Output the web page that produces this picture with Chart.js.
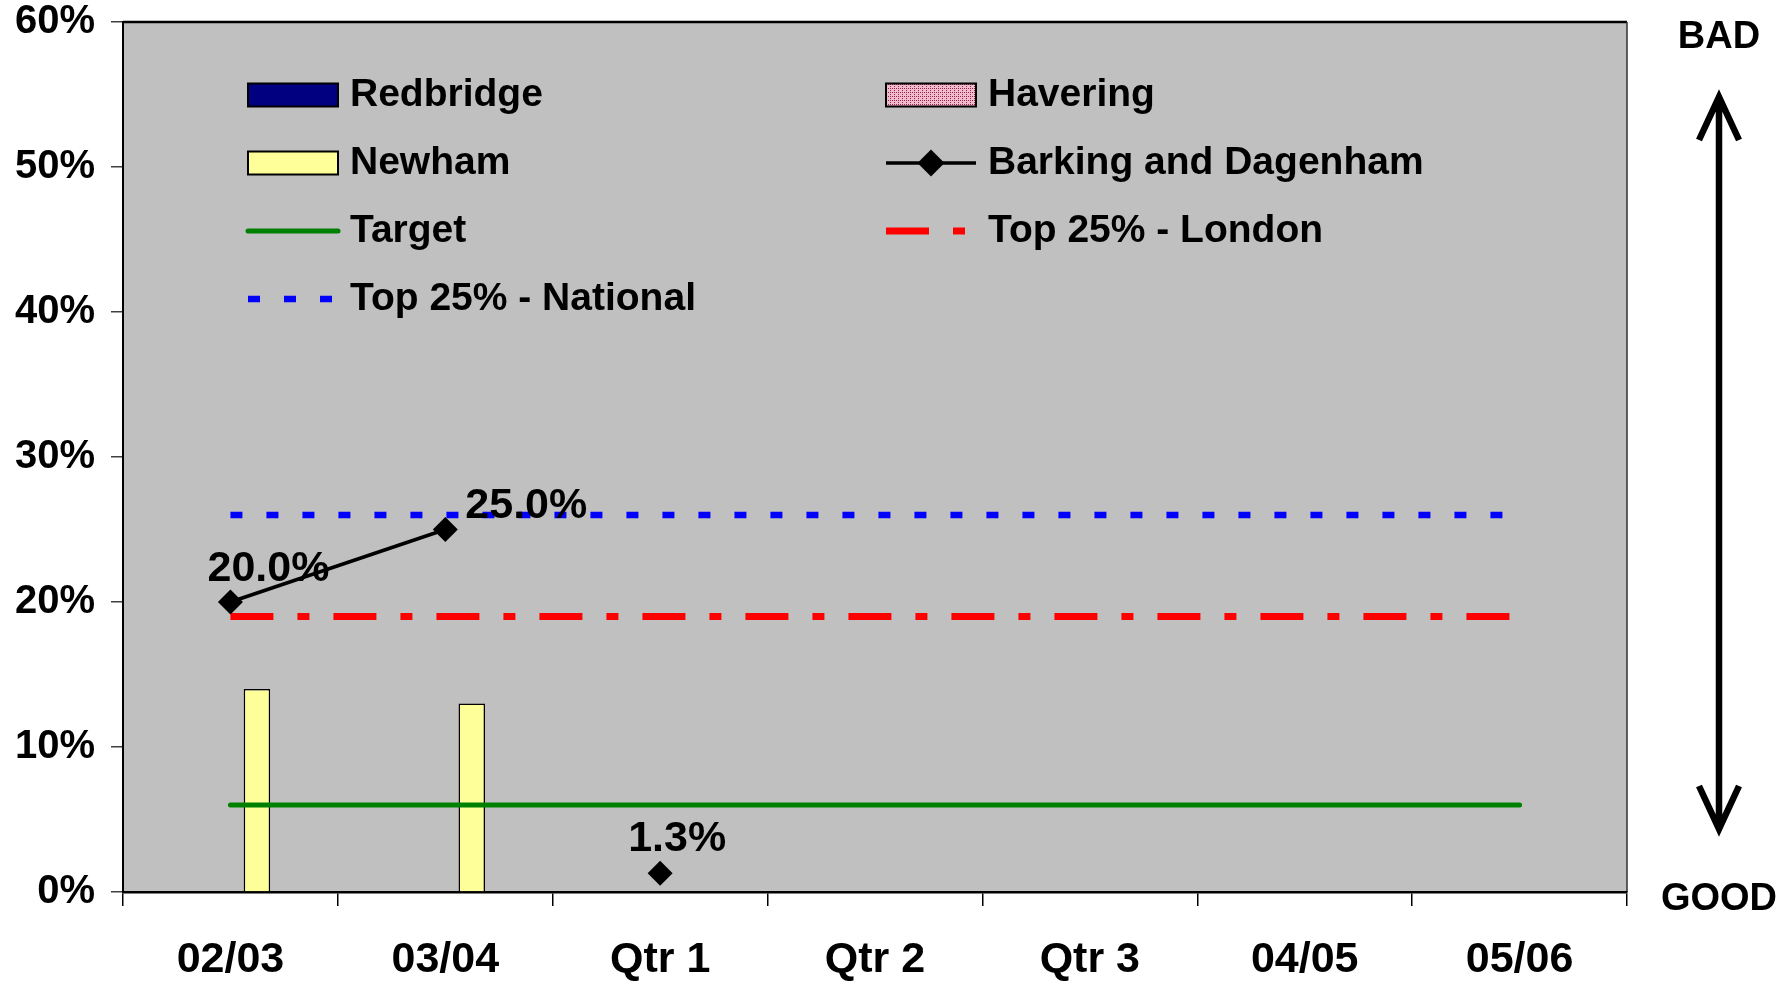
<!DOCTYPE html>
<html>
<head>
<meta charset="utf-8">
<script src="https://cdn.jsdelivr.net/npm/chart.js@4.4.0/dist/chart.umd.min.js"></script>
<style>
  html, body { margin: 0; padding: 0; background: #fff; }
  #wrap { width: 1787px; height: 984px; }
</style>
</head>
<body>
<div id="wrap"><canvas id="myChart" width="1787" height="984"></canvas></div>
<script>
// chart values, in percent
const categories = ['02/03', '03/04', 'Qtr 1', 'Qtr 2', 'Qtr 3', '04/05', '05/06'];
const redbridge = [null, null, null, null, null, null, null];
const havering = [null, null, null, null, null, null, null];
const newham = [14, 13, null, null, null, null, null];
const barking = [20, 25, 1.3, null, null, null, null];
const target = [6, 6, 6, 6, 6, 6, 6];
const topLondon = [19, 19, 19, 19, 19, 19, 19];
const topNational = [26, 26, 26, 26, 26, 26, 26];
const yTicks = [0, 10, 20, 30, 40, 50, 60];

const FONT = '"Liberation Sans", Arial, sans-serif';
Chart.defaults.font.family = FONT;
Chart.defaults.font.weight = 'bold';
Chart.defaults.color = '#000';

// pink hatch for Havering
function hatchPattern() {
    const c = document.createElement('canvas');
    c.width = 4; c.height = 4;
    const g = c.getContext('2d');
    g.fillStyle = '#efbccb';
    g.fillRect(0, 0, 4, 4);
    g.fillStyle = '#a02050';
    g.fillRect(0, 0, 1, 1);
    g.fillRect(2, 2, 1, 1);
    g.fillRect(2, 0, 1, 1);
    return g.createPattern(c, 'repeat');
}

// plot area background and frame
const plotArea = {
    id: 'plotArea',
    beforeDraw(chart) {
        const { ctx, chartArea: a } = chart;
        ctx.save();
        ctx.fillStyle = '#c0c0c0';
        ctx.fillRect(a.left, a.top, a.right - a.left, a.bottom - a.top);
        ctx.strokeStyle = '#000';
        ctx.lineWidth = 2.5;
        ctx.beginPath();
        ctx.moveTo(a.left, a.top);
        ctx.lineTo(a.right, a.top);
        ctx.stroke();
        ctx.strokeStyle = '#303030';
        ctx.lineWidth = 1.5;
        ctx.beginPath();
        ctx.moveTo(a.right, a.top);
        ctx.lineTo(a.right, a.bottom);
        ctx.stroke();
        ctx.restore();
    }
};

// value labels for Barking and Dagenham (offset from point)
const labelOffsets = [[38, -33], [81, -23], [17, -34]];
const pointLabels = {
    id: 'pointLabels',
    afterDatasetsDraw(chart) {
        const ctx = chart.ctx;
        const meta = chart.getDatasetMeta(3);
        ctx.save();
        ctx.font = 'bold 43px ' + FONT;
        ctx.fillStyle = '#000';
        ctx.textAlign = 'center';
        ctx.textBaseline = 'middle';
        meta.data.forEach((pt, i) => {
            const v = barking[i];
            if (v === null || !labelOffsets[i]) return;
            ctx.fillText(v.toFixed(1) + '%', pt.x + labelOffsets[i][0], pt.y + labelOffsets[i][1]);
        });
        ctx.restore();
    }
};

// two column legend inside the plot
const gridLegend = {
    id: 'gridLegend',
    afterDraw(chart) {
        const { ctx, chartArea: a } = chart;
        const colX = [a.left + 125, a.left + 763];
        ctx.save();
        ctx.font = 'bold 39px ' + FONT;
        ctx.textBaseline = 'middle';
        chart.data.datasets.forEach((ds, i) => {
            const x = colX[i % 2];
            const y = a.top + 73 + Math.floor(i / 2) * 68;
            const w = 90;
            if (ds.type === 'bar') {
                ctx.fillStyle = ds.backgroundColor;
                ctx.fillRect(x, y - 11.5, w, 23);
                ctx.strokeStyle = '#000';
                ctx.lineWidth = 2;
                ctx.strokeRect(x, y - 11.5, w, 23);
            } else {
                ctx.strokeStyle = ds.borderColor;
                ctx.lineWidth = ds.borderWidth;
                ctx.lineCap = ds.borderCapStyle || 'butt';
                ctx.setLineDash(ds.borderDash || []);
                ctx.beginPath();
                ctx.moveTo(x, y);
                ctx.lineTo(x + w, y);
                ctx.stroke();
                ctx.setLineDash([]);
                if (ds.pointRadius > 0) {
                    const r = ds.pointRadius + 1;
                    ctx.fillStyle = ds.pointBackgroundColor;
                    ctx.beginPath();
                    ctx.moveTo(x + w / 2, y - r);
                    ctx.lineTo(x + w / 2 + r, y);
                    ctx.lineTo(x + w / 2, y + r);
                    ctx.lineTo(x + w / 2 - r, y);
                    ctx.closePath();
                    ctx.fill();
                }
            }
            ctx.fillStyle = '#000';
            ctx.fillText(ds.label, x + 102, y);
        });
        ctx.restore();
    }
};

// BAD / GOOD arrow on the right
const badGood = {
    id: 'badGood',
    afterDraw(chart) {
        const { ctx, chartArea: a } = chart;
        const x = a.right + 92;
        const top = 97, bottom = 829;
        ctx.save();
        ctx.fillStyle = '#000';
        ctx.textAlign = 'center';
        ctx.textBaseline = 'middle';
        ctx.font = 'bold 38px ' + FONT;
        ctx.fillText('BAD', x, 38);
        ctx.fillText('GOOD', x, 900);
        ctx.strokeStyle = '#000';
        ctx.lineWidth = 6.5;
        ctx.beginPath();
        ctx.moveTo(x, top);
        ctx.lineTo(x, bottom);
        ctx.moveTo(x - 20, top + 43);
        ctx.lineTo(x, top);
        ctx.lineTo(x + 20, top + 43);
        ctx.moveTo(x - 20, bottom - 43);
        ctx.lineTo(x, bottom);
        ctx.lineTo(x + 20, bottom - 43);
        ctx.stroke();
        ctx.restore();
    }
};

const ctx = document.getElementById('myChart').getContext('2d');
const myChart = new Chart(ctx, {
    type: 'bar',
    data: {
        labels: categories,
        datasets: [
            { type: 'bar', label: 'Redbridge', data: redbridge, backgroundColor: '#000080',
              borderColor: '#000', borderWidth: 1.5, order: 5 },
            { type: 'bar', label: 'Havering', data: havering, backgroundColor: hatchPattern(),
              borderColor: '#000', borderWidth: 1.5, order: 5 },
            { type: 'bar', label: 'Newham', data: newham, backgroundColor: '#ffff99',
              borderColor: '#000', borderWidth: 1.5, order: 5 },
            { type: 'line', label: 'Barking and Dagenham', data: barking, borderColor: '#000',
              borderWidth: 3.5, pointStyle: 'rectRot', pointRadius: 12.5,
              pointBackgroundColor: '#000', pointBorderColor: '#000', pointBorderWidth: 0,
              spanGaps: false, order: 0,
              segment: { borderColor: c => c.p0DataIndex === 1 ? 'rgba(0,0,0,0)' : '#000' } },
            { type: 'line', label: 'Target', data: target, borderColor: '#008000',
              borderWidth: 5, borderCapStyle: 'round', pointRadius: 0, order: 1 },
            { type: 'line', label: 'Top 25% - London', data: topLondon, borderColor: '#ff0000',
              borderWidth: 7, borderDash: [43, 24, 12, 24], pointRadius: 0, order: 1 },
            { type: 'line', label: 'Top 25% - National', data: topNational, borderColor: '#0000ff',
              borderWidth: 6.5, borderDash: [12, 24], pointRadius: 0, order: 1 }
        ]
    },
    options: {
        responsive: false,
        animation: false,
        devicePixelRatio: 1,
        layout: { padding: { top: 22, right: 160, left: 0, bottom: 0 } },
        datasets: { bar: { categoryPercentage: 0.37, barPercentage: 1.0 } },
        plugins: { legend: { display: false }, tooltip: { enabled: false } },
        scales: {
            x: {
                afterFit: s => { s.height = 92; s.paddingLeft = 0; s.paddingRight = 0; },
                grid: { drawOnChartArea: false, color: '#000', lineWidth: 1.5, tickLength: 14, offset: true },
                border: { color: '#000', width: 2.5 },
                ticks: { font: { size: 43, weight: 'bold' }, padding: 28, maxRotation: 0 }
            },
            y: {
                min: 0,
                max: 60,
                afterFit: s => { s.width = 123; s.paddingTop = 0; s.paddingBottom = 0; },
                afterBuildTicks: s => { s.ticks = yTicks.map(v => ({ value: v })); },
                grid: { drawOnChartArea: false, color: '#404040', lineWidth: 1.5, tickLength: 12 },
                border: { color: '#000', width: 2 },
                ticks: { font: { size: 40, weight: 'bold' }, padding: 16, callback: v => v + '%' }
            }
        }
    },
    plugins: [plotArea, pointLabels, gridLegend, badGood]
});
</script>
</body>
</html>
